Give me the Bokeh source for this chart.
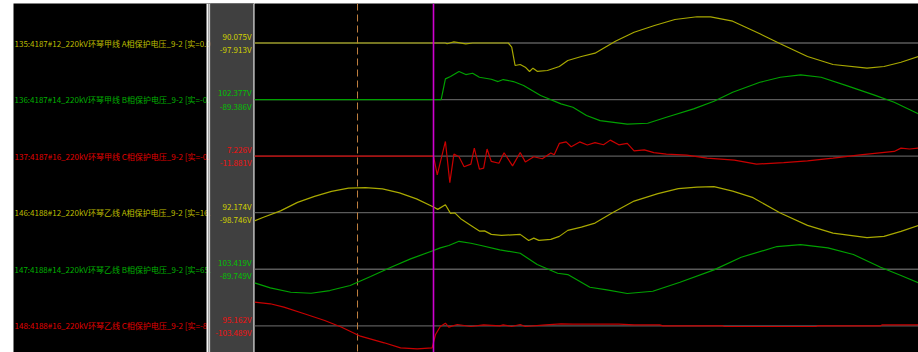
from bokeh.plotting import figure
from bokeh.models import Range1d, Span
from bokeh.layouts import row
from bokeh.embed import file_html
from bokeh.resources import INLINE
from bokeh.core.properties import value

# ---------------- data ----------------
CHANNEL_NAMES = [
    "135:4187#12_220kV环琴甲线 A相保护电压_9-2 [实=0.0",
    "136:4187#14_220kV环琴甲线 B相保护电压_9-2 [实=-0.",
    "137:4187#16_220kV环琴甲线 C相保护电压_9-2 [实=-0.",
    "146:4188#12_220kV环琴乙线 A相保护电压_9-2 [实=16.",
    "147:4188#14_220kV环琴乙线 B相保护电压_9-2 [实=65.",
    "148:4188#16_220kV环琴乙线 C相保护电压_9-2 [实=-8",
]
CHANNEL_MAX = ["90.075V", "102.377V", "7.226V", "92.174V", "103.419V", "95.162V"]
CHANNEL_MIN = ["-97.913V", "-89.386V", "-11.881V", "-98.746V", "-89.749V", "-103.489V"]

# time in ms (0 = trigger cursor)
ch1_t = [-10.53, 0.7, 0.8, 1.2, 1.9, 2.3, 4.4, 4.6, 4.8, 5.1, 5.4, 5.65, 5.85, 6.1, 6.7,
         7.4, 7.9, 8.7, 9.5, 10.7, 11.8, 13.0, 14.2, 15.5, 16.3, 17.6, 19.2, 20.4, 22.0,
         23.5, 25.5, 26.5, 27.5, 28.53]
ch1_v = [0.0, 0.0, -2.7, 4.1, -2.7, 0.0, 0.0, -14.4, -77.2, -73.7, -83.0, -97.9, -86.4, -97.0, -94.3,
         -80.6, -60.0, -46.3, -35.0, 6.2, 37.0, 60.0, 80.6, 90.1, 89.5, 74.8, 31.6, -2.7, -46.3,
         -73.7, -86.4, -80.6, -65.9, -46.3]

ch2_t = [-10.53, 0.45, 0.7, 1.0, 1.5, 1.9, 2.3, 2.7, 3.4, 3.8, 4.1, 4.7, 5.3, 6.3, 7.5, 8.2,
         9.0, 9.8, 11.4, 12.6, 13.7, 15.3, 16.5, 17.6, 19.2, 20.4, 21.6, 22.8, 24.3, 25.9,
         27.1, 28.53]
ch2_v = [0.0, 0.0, 75.6, 84.0, 102.4, 91.3, 96.0, 81.4, 74.1, 65.7, 73.0, 65.7, 51.1, 14.6, -15.7, -28.1,
         -58.4, -76.7, -89.4, -86.5, -64.6, -33.9, -6.2, 26.6, 63.1, 81.4, 90.2, 81.4, 51.1, 17.2,
         -9.9, -52.2]

ch3_t = [-10.53, 0.0, 0.22, 0.7, 0.96, 1.2, 1.5, 1.8, 2.2, 2.4, 2.7, 2.95, 3.15, 3.4, 3.85,
         4.15, 4.65, 5.1, 5.4, 5.9, 6.4, 6.9, 7.1, 7.4, 7.8, 8.1, 8.6, 9.05, 9.5, 10.0, 10.4,
         10.9, 11.4, 11.8, 12.4, 12.96, 13.7, 14.9, 16.1, 17.7, 19.0, 20.6, 22.0, 23.5, 25.1,
         27.1, 27.5, 28.0, 28.53]
ch3_v = [0.0, 0.0, -8.4, 6.6, -11.9, 0.9, -0.3, -4.8, -3.6, 3.6, -5.9, -5.4, 3.2, -2.4, -3.2,
         1.5, -4.4, 1.6, -2.6, -0.3, -1.2, 1.4, 0.6, 5.7, 6.4, 4.2, 6.4, 5.0, 6.1, 5.1, 7.2,
         5.1, 5.7, 2.4, 2.8, 1.6, 0.9, 0.45, -0.9, -1.8, -3.6, -2.9, -2.1, -0.9, 0.6,
         2.1, 3.6, 3.2, 3.6]

ch4_t = [-10.53, -10.0, -9.0, -8.0, -7.0, -6.0, -5.0, -4.0, -3.0, -2.0, -1.0, 0.0, 0.25, 0.7,
         1.0, 1.25, 1.6, 2.2, 2.7, 3.0, 3.4, 4.0, 5.1, 5.6, 5.9, 6.2, 6.9, 7.4, 7.9, 8.7, 9.5,
         10.5, 11.8, 13.2, 14.4, 15.5, 16.5, 17.6, 18.8, 20.4, 22.0, 23.5, 25.5, 26.5, 27.5, 28.53]
ch4_v = [-29.1, -16.3, 6.4, 36.6, 57.9, 75.6, 87.0, 88.8, 84.5, 70.3, 49.0, 19.9, 11.7, 28.4,
         -2.5, -0.7, -21.3, -45.1, -65.3, -64.6, -77.0, -80.6, -77.0, -98.7, -90.2, -98.3, -94.8, -84.1, -62.8, -51.1, -36.9,
         -1.4, 41.2, 67.5, 85.2, 91.0, 92.2, 76.7, 53.3, -1.4, -45.1, -72.4, -88.8, -84.1, -66.4, -45.1]

ch5_t = [-10.53, -9.6, -8.4, -7.2, -6.1, -4.9, -3.7, -2.5, -1.35, 0.0, 0.4, 0.9, 1.5, 2.2, 2.8,
         3.9, 5.1, 6.1, 7.3, 7.9, 9.2, 10.2, 11.4, 12.9, 14.5, 16.5, 18.1, 20.2, 21.6, 23.2,
         24.7, 26.3, 27.5, 28.53]
ch5_v = [-50.3, -68.8, -85.1, -88.8, -78.8, -60.3, -27.0, 7.4, 38.5, 69.2, 79.2, 87.7, 103.4, 96.2, 87.7,
         71.8, 59.2, 17.4, -14.8, -19.6, -66.6, -76.2, -89.7, -81.4, -48.1, -2.2, 44.4, 84.0, 91.4, 79.2,
         54.4, 7.4, -23.3, -50.3]

ch6_t = [-10.53, -9.6, -8.8, -7.6, -6.4, -5.4, -4.3, -2.9, -1.94, -0.96, -0.08, 0.12, 0.4, 0.7,
         0.9, 1.4, 2.2, 2.95, 3.9, 4.1, 4.6, 5.1, 5.4, 6.6, 7.5, 8.2, 10.9, 11.8, 13.3, 13.5,
         17.0, 17.1, 22.5, 22.6, 26.3, 26.4, 28.53]
ch6_v = [95.1, 88.7, 75.0, 48.4, 21.4, -5.6, -41.9, -68.5, -88.7, -92.7, -88.7, -35.1, -2.8, 10.5,
         -5.6, 5.2, -2.8, 4.0, 0.0, 4.0, -2.8, 5.2, -2.8, 4.0, 8.1, 6.4, 6.4, 4.0, 4.0, 0.0,
         0.0, -2.8, -2.8, 0.0, 0.0, 4.0, 4.0]

SERIES_T = [ch1_t, ch2_t, ch3_t, ch4_t, ch5_t, ch6_t]
SERIES_V = [ch1_v, ch2_v, ch3_v, ch4_v, ch5_v, ch6_v]

T_VIEW_START, T_VIEW_END = -10.53, 28.53
CURSOR_T = -4.47
TRIGGER_T = 0.0

# ---------------- styles / layout ----------------
FRAME_H = 349
LEFT_W = 241
MAIN_W = 664
BASE_TOP = 39.5
BASE_STEP = 56.56
VOLT_PER_PX = [3.43, 3.65, 0.45, 3.55, 3.7, 4.03]
LINE_COLORS = ["#a8a800", "#00a000", "#c80000", "#a8a800", "#00a000", "#c80000"]
LABEL_COLORS = ["#bcbc00", "#00b000", "#e00000", "#bcbc00", "#00b000", "#e00000"]
VALUE_COLORS = ["#d0d000", "#00c000", "#f01010", "#d0d000", "#00c000", "#f01010"]
FONT = value("Noto Sans CJK SC")

bases = [BASE_TOP + BASE_STEP * i for i in range(6)]

# ---------------- main waveform figure ----------------
p = figure(width=MAIN_W, height=FRAME_H,
           x_range=Range1d(T_VIEW_START, T_VIEW_END), y_range=Range1d(0, FRAME_H),
           x_axis_type=None, y_axis_type=None, toolbar_location=None,
           output_backend="svg", min_border=0,
           background_fill_color="black", border_fill_color="black",
           outline_line_color=None)

ranges = {}
for i, py in enumerate(bases):
    s = VOLT_PER_PX[i]
    end = py * s
    ranges[f"ch{i}"] = Range1d(end - FRAME_H * s, end)
p.extra_y_ranges = ranges

for i in range(6):
    p.add_layout(Span(location=0, dimension="width", y_range_name=f"ch{i}",
                      line_color="#5a5a5a", line_width=1.3, level="underlay"))

p.add_layout(Span(location=CURSOR_T, dimension="height", line_color="#c08040",
                  line_dash="7 4", line_width=1, level="underlay"))

for i in range(6):
    p.line(SERIES_T[i], SERIES_V[i], y_range_name=f"ch{i}",
           line_color=LINE_COLORS[i], line_width=1.2)

p.add_layout(Span(location=TRIGGER_T, dimension="height", line_color="#d000d0",
                  line_width=1.6))

# ---------------- left label panel ----------------
lf = figure(width=LEFT_W, height=FRAME_H,
            x_range=Range1d(0, LEFT_W), y_range=Range1d(FRAME_H, 0),
            x_axis_type=None, y_axis_type=None, toolbar_location=None,
            output_backend="svg", min_border=0,
            background_fill_color="black", border_fill_color="white",
            outline_line_color=None)

lf.text(x=[1] * 6, y=bases, text=CHANNEL_NAMES, text_color=LABEL_COLORS,
        text_font=FONT, text_font_size="8px", text_baseline="middle", text_align="left")

lf.quad(left=[193, 195, 197, 239.5], right=[195, 197, 239.5, 240.5],
        top=[0] * 4, bottom=[FRAME_H] * 4,
        fill_color=["#f4f4f4", "#c8c8c8", "#404040", "#a8a8a8"], line_color=None)

lf.text(x=[238] * 6, y=[b - 6.6 for b in bases], text=CHANNEL_MAX, text_color=VALUE_COLORS,
        text_font=FONT, text_font_size="8px", text_baseline="middle", text_align="right")
lf.text(x=[238] * 6, y=[b + 6.6 for b in bases], text=CHANNEL_MIN, text_color=VALUE_COLORS,
        text_font=FONT, text_font_size="8px", text_baseline="middle", text_align="right")

layout = row(lf, p, spacing=0, styles={"margin-top": "3px", "margin-left": "13px"})

open("out.html", "w").write(file_html(layout, INLINE))
